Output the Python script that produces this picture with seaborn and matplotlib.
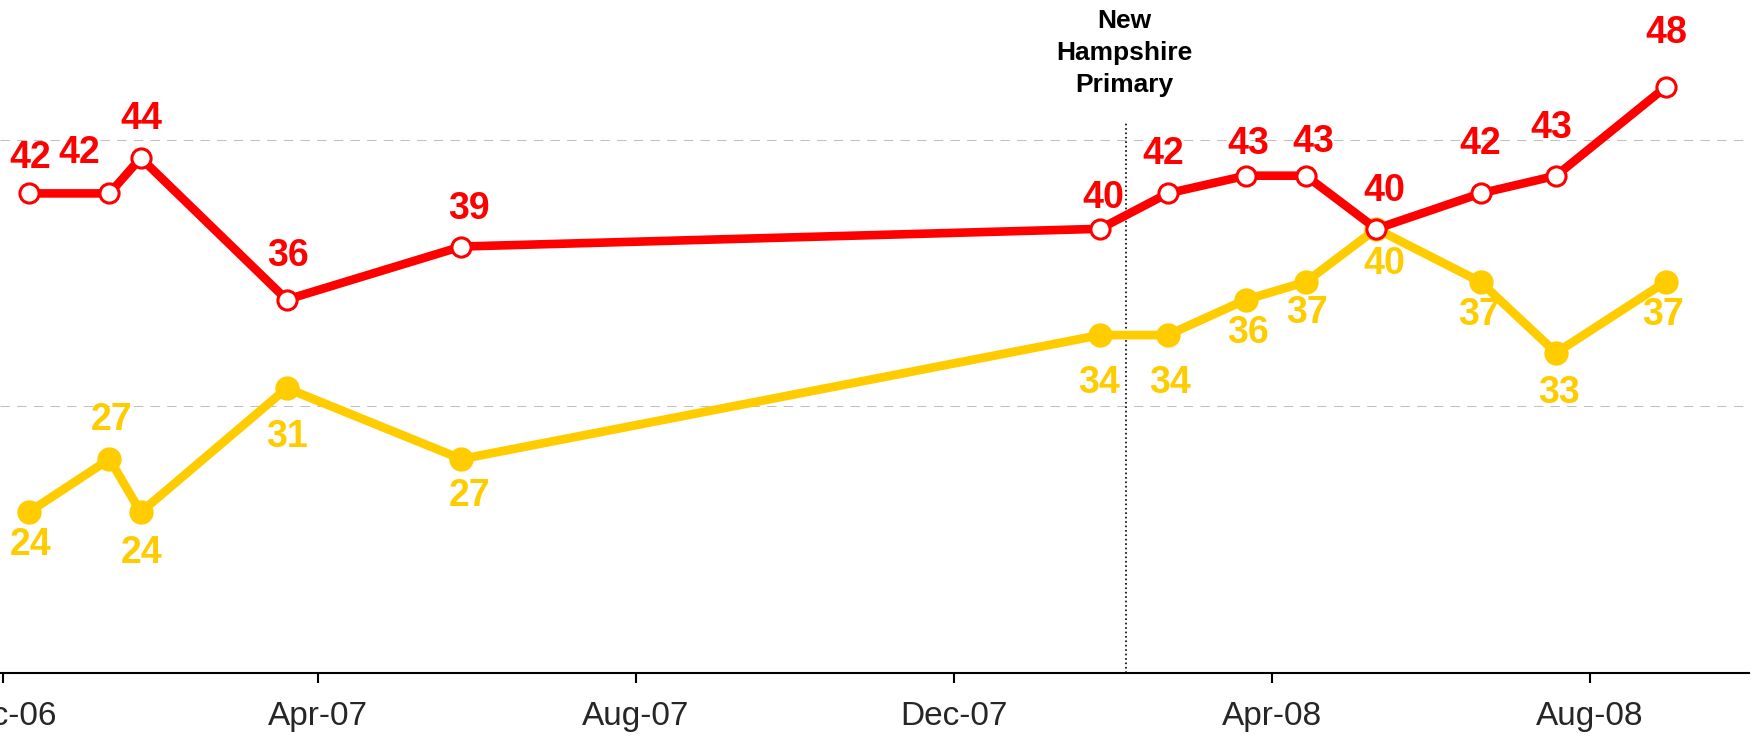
import matplotlib
matplotlib.use("Agg")
import matplotlib.pyplot as plt
import matplotlib.dates as mdates
import seaborn as sns
import pandas as pd

# poll dates
dates = pd.to_datetime([
    "2006-12-11", "2007-01-11", "2007-01-23", "2007-03-20", "2007-05-26",
    "2008-01-26", "2008-02-21", "2008-03-22", "2008-04-14", "2008-05-11",
    "2008-06-20", "2008-07-19", "2008-08-30",
])
red_vals = [42, 42, 44, 36, 39, 40, 42, 43, 43, 40, 42, 43, 48]
yellow_vals = [24, 27, 24, 31, 27, 34, 34, 36, 37, 40, 37, 33, 37]

nh_date = pd.Timestamp("2008-02-05")
nh_label = "New\nHampshire\nPrimary"

RED = "#FF0000"
YELLOW = "#FFCC00"

# label offsets in pixels (dx, dy up)
red_offsets = [(2, 35), (-30, 40), (1, 39), (1, 44), (8, 38), (3, 31), (-4, 39),
               (2, 32), (7, 34), (8, 38), (0, 49), (-5, 48), (1, 54)]
yellow_offsets = [(2, -33), (2, 39), (1, -41), (0, -49), (8, -37), (-1, -48), (2, -48),
                  (2, -33), (1, -31), (8, -35), (-2, -33), (3, -40), (-3, -33)]

sns.set_style("white")
plt.rcParams["font.family"] = ["Liberation Sans", "DejaVu Sans"]

fig = plt.figure(figsize=(17.55, 7.38), dpi=100)
ax = fig.add_axes([0, 65 / 738, 1749 / 1755, 673 / 738])

df = pd.DataFrame({"date": dates, "red": red_vals, "yellow": yellow_vals})

sns.lineplot(data=df, x="date", y="yellow", ax=ax, color=YELLOW, linewidth=6.3,
             marker="o", markersize=17.5, markerfacecolor=YELLOW,
             markeredgecolor=YELLOW, markeredgewidth=0, estimator=None, sort=False)
sns.lineplot(data=df, x="date", y="red", ax=ax, color=RED, linewidth=6.2,
             marker="o", markersize=13.8, markerfacecolor="white",
             markeredgecolor=RED, markeredgewidth=2.2, estimator=None, sort=False)

for d, v, (dx, dy) in zip(dates, red_vals, red_offsets):
    ax.annotate(str(v), xy=(d, v), xytext=(dx, dy), textcoords="offset pixels",
                ha="center", va="center", color=RED, fontsize=27, fontweight="bold")
for d, v, (dx, dy) in zip(dates, yellow_vals, yellow_offsets):
    ax.annotate(str(v), xy=(d, v), xytext=(dx, dy), textcoords="offset pixels",
                ha="center", va="center", color=YELLOW, fontsize=27, fontweight="bold")

# New Hampshire primary marker
ax.vlines(nh_date, 14.9, 46, colors="black", linestyles=":", linewidth=1.2, zorder=1)
ax.annotate(nh_label, xy=(nh_date, 46), xytext=(-2, 26), textcoords="offset pixels",
            ha="center", va="bottom", fontsize=19, fontweight="bold",
            color="black", linespacing=1.4)

ax.set_ylim(14.92, 52.92)
ax.set_xlim(pd.Timestamp("2006-11-30"), pd.Timestamp("2008-10-01"))
ax.set_yticks([30, 45])
ax.yaxis.grid(True, color="#C0C0C0", linestyle=(0, (9, 7)), linewidth=0.75)
ax.xaxis.grid(False)
ax.set_axisbelow(True)

ax.xaxis.set_major_locator(mdates.MonthLocator(bymonth=[4, 8, 12]))
ax.xaxis.set_major_formatter(mdates.DateFormatter("%b-%y"))
ax.tick_params(axis="x", direction="out", length=7, width=1.5, color="black",
               labelsize=24, pad=13, bottom=True)
ax.tick_params(axis="y", left=False, labelleft=False)

for s in ["left", "top", "right"]:
    ax.spines[s].set_visible(False)
ax.spines["bottom"].set_color("black")
ax.spines["bottom"].set_linewidth(1.5)

ax.set_xlabel("")
ax.set_ylabel("")

fig.savefig("out.png", dpi=100, facecolor="white")
